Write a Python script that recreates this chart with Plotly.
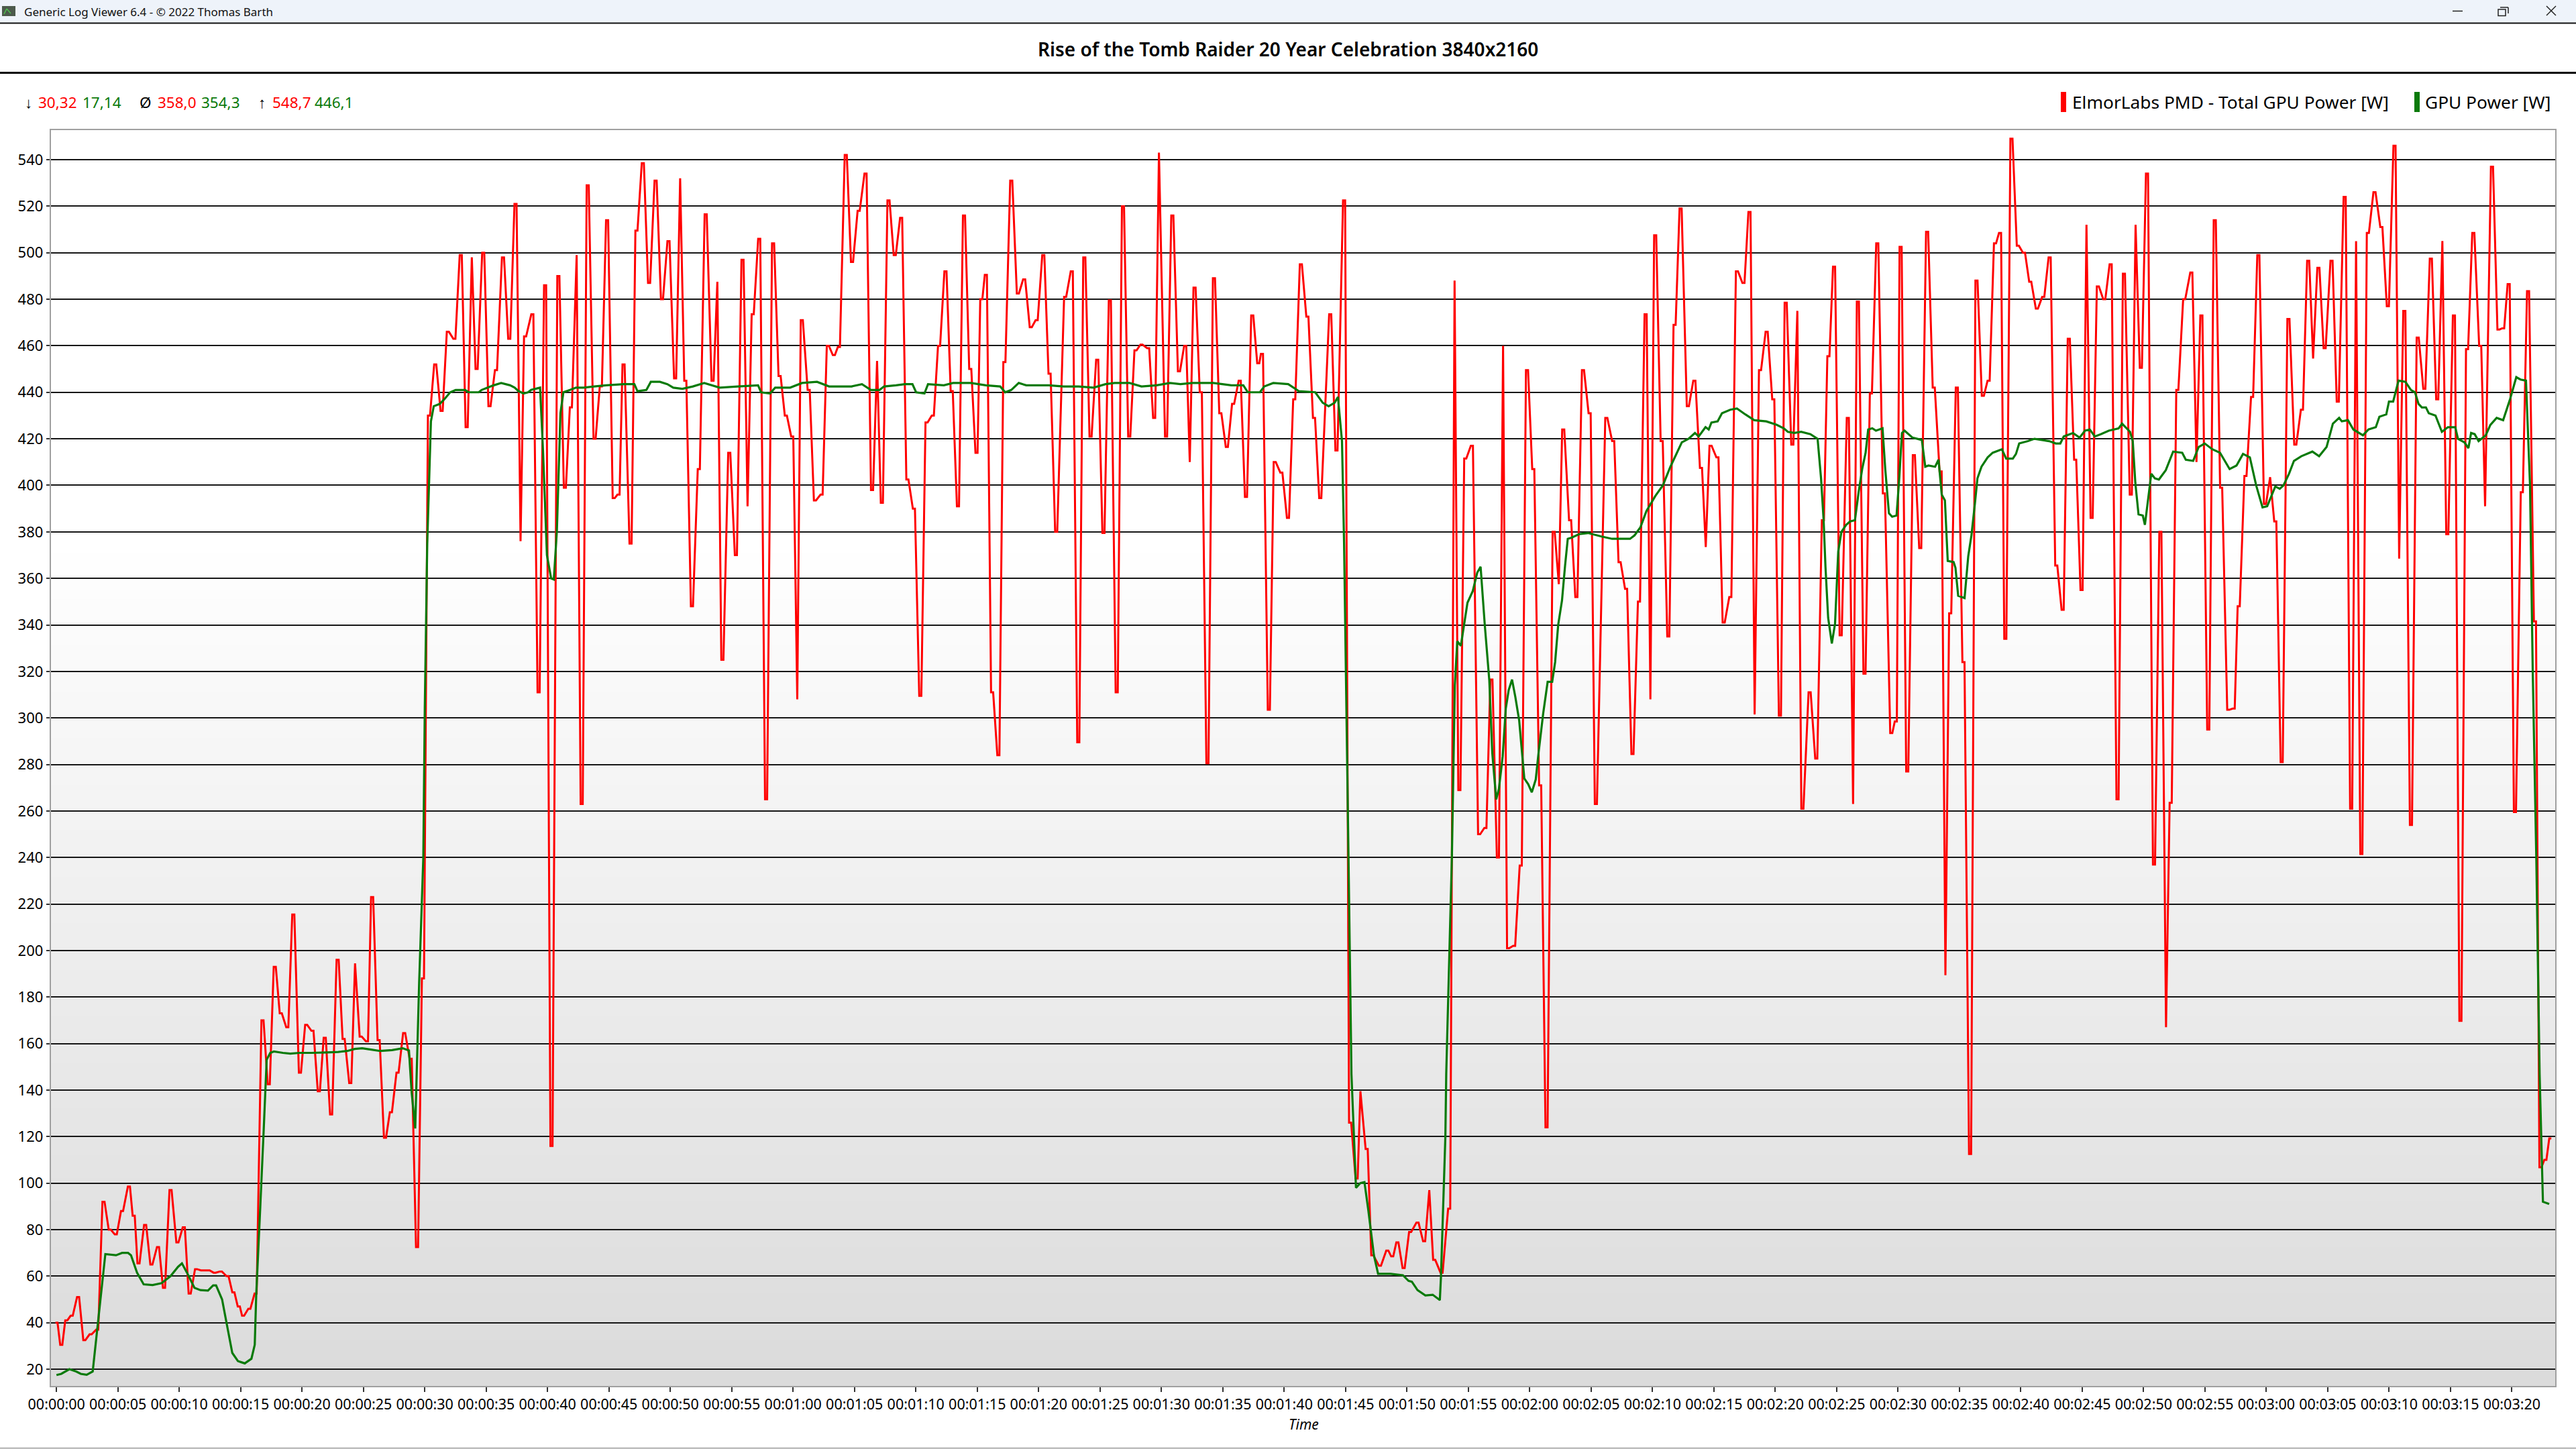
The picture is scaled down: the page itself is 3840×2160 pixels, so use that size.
#!/usr/bin/env python3.12

"""Rise of the Tomb Raider power log, as shown by Generic Log Viewer."""

from __future__ import annotations

import plotly.graph_objects as go

WIDTH, HEIGHT = 3840, 2160
PLOT_LEFT, PLOT_RIGHT, PLOT_TOP, PLOT_BOTTOM = 75.5, 3809, 194, 2066
FONT = "Noto Sans"
RED, GREEN = "#ff0000", "#0a7a0a"

# Red series: PMD readings, time in seconds, power in watts.
red_time = [
    0, .39, .80, 1.24, 1.76, 2.27, 2.78, 3.32, 3.83, 4.34, 4.83, 5.34, 5.90, 6.29, 6.68, 7.22, 7.73, 8.27, 8.76, 9.29,
    9.85, 10.37, 10.85, 11.37, 11.85, 12.39, 12.88, 13.39, 13.93, 14.41, 14.85, 15.2, 15.71, 16.22, 16.78, 17.29,
    17.78, 18.27, 18.8, 19.29, 19.83, 20.34, 20.85, 21.37, 21.85, 22.37, 22.9, 23.39, 23.93, 24.32, 24.78, 25.29,
    25.71, 26.24, 26.76, 27.24, 27.78, 28.32, 28.85, 29.37, 29.85,
    30.34, 30.85, 31.37, 31.88, 32.41, 32.93, 33.41, 33.83, 34.22, 34.76, 35.27, 35.80, 36.37, 36.88, 37.39, 37.80,
    38.17, 38.76, 39.27, 39.80, 40.32, 40.88, 41.41, 41.9, 42.37, 42.78, 43.27, 43.83, 44.34, 44.85, 45.39, 45.78,
    46.19, 46.76, 47.24, 47.76, 48.27, 48.8, 49.32, 49.85, 50.39, 50.8, 51.22, 51.76, 52.32, 52.88, 53.44, 53.83,
    54.24, 54.8, 55.34, 55.88, 56.29, 56.71, 57.24, 57.8, 58.37, 58.9, 59.41, 59.93, 60.34, 60.71, 61.27, 61.78,
    62.32, 62.83, 63.32, 63.73, 64.29, 64.8, 65.34, 65.9,
    66.43, 66.84, 67.23, 67.77, 68.28, 68.8, 69.31, 69.84, 70.36, 70.87, 71.38, 71.89, 72.41, 72.92, 73.43, 73.92,
    74.43, 74.94, 75.33, 75.7, 76.21, 76.72, 77.21, 77.77, 78.31, 78.82, 79.36, 79.84, 80.38, 80.89, 81.43, 82.16,
    82.7, 83.23, 83.72, 84.23, 84.77, 85.28, 85.8, 86.36, 86.87, 87.38, 87.89, 88.38, 88.92, 89.41, 89.8, 90.38,
    90.89, 91.43, 91.94, 92.31, 92.7, 93.21, 93.75, 94.28, 94.8, 95.33, 95.84, 96.38, 96.89, 97.4, 97.89, 98.19,
    98.75, 99.23, 99.77, 100.31, 100.82, 101.36, 101.89, 102.43, 102.94, 103.75, 104.26,
    104.88, 105.37, 105.9, 106.21, 106.72, 107.18, 107.8, 108.4, 108.8, 109.22, 109.73, 110.26, 110.86, 111.4,
    111.82, 112.22, 112.82, 113.44, 113.88, 114.27, 114.75, 115.29, 115.88, 116.39, 116.88, 117.41, 117.83, 118.24,
    118.73, 119.27, 119.78, 120.29, 120.85, 121.37, 121.95, 122.37, 122.73, 123.29, 123.8, 124.34, 124.88, 125.39,
    126.24, 126.8, 127.32, 127.85, 128.37, 128.9, 129.44, 129.83, 130.22, 130.75, 131.29, 131.8, 132.29, 132.88,
    133.41, 133.95, 134.34, 134.73, 135.29, 135.8, 136.34, 136.88, 137.41, 137.9,
    138.32, 138.76, 139.3, 139.84, 140.38, 140.85, 141.39, 141.8, 142.21, 142.8, 143.34, 143.88, 144.33, 144.79,
    145.33, 145.91, 146.34, 146.73, 147.27, 147.79, 148.31, 148.85, 149.45, 149.82, 150.21, 150.75, 151.29, 151.81,
    152.37, 152.91, 153.47, 153.86, 154.25, 154.79, 155.33, 155.87, 156.39, 156.91, 157.38, 157.9, 158.31, 158.74,
    159.24, 159.76, 160.26, 160.77, 161.31, 161.83, 162.35, 162.89, 163.41, 163.91, 164.43, 164.95, 165.35, 165.77,
    166.28, 166.8, 167.32, 167.88, 168.4, 168.96, 169.35, 169.78, 170.28,
    170.85, 171.37, 171.83, 172.21, 172.75, 173.31, 173.89, 174.31, 174.71, 175.27, 175.8, 176.32, 176.9, 177.34,
    177.75, 178.3, 178.84, 179.35, 179.89, 180.31, 180.73, 181.25, 181.8, 182.36, 182.9, 183.41, 183.81, 184.24,
    184.75, 185.31, 185.82, 186.38, 186.91, 187.31, 187.74, 188.27, 188.81, 189.37, 189.9, 190.44, 190.82, 191.24,
    191.78, 192.33, 192.87, 193.4, 193.92, 194.34, 194.74, 195.28, 195.81, 196.35, 196.86, 197.42, 197.82, 198.38,
    198.91, 199.29, 199.74, 200.25, 200.81, 201.32, 201.88, 202.33, 202.73, 203.13,
]
red_power = [
    40, 30.5, 41, 43, 51, 32.5, 35, 37, 92, 80, 78, 88, 98.5, 86, 65.5, 82, 65, 72.5, 55, 97,
    74.5, 81, 52.5, 63, 62.5, 62.5, 61.5, 62, 60, 53, 47, 43, 46, 52.5, 170, 142.5,
    193, 173, 167, 215.5, 147.5, 168, 165.5, 139.5, 162.5, 129.5, 196, 162, 143, 194.5, 163, 161,
    223, 161.5, 119.5, 130.5, 147.5, 164.5, 153.5, 72.5, 188,
    430, 452, 432, 466, 463, 499, 425, 498, 450, 500, 434, 449.5, 498, 463, 521, 376,
    464, 473.5, 311, 486, 116, 490, 399, 433.5, 499, 263, 529, 420, 442.5, 514, 394.5, 396,
    452, 375, 509.5, 538.5, 487, 531, 480, 505, 446, 532, 445, 348, 407, 516.5, 445, 487.5,
    325, 414, 370, 497, 391, 473.5, 506, 265, 504, 447, 430, 421, 308, 471, 441, 393.5,
    396, 460, 456, 459.5, 542, 496, 518, 534,
    398, 453.5, 392.5, 522.5, 499, 515, 402.5, 390, 309.5, 427, 430, 460, 492, 440.5, 391, 516,
    450, 414, 480, 490.5, 311, 284, 453, 531, 482.5, 488.5, 468, 471, 499, 448, 380, 481,
    492, 289.5, 498, 421, 454, 379.5, 479.5, 311, 520, 421, 458, 460.5, 459, 429, 543, 421,
    516, 449, 460, 410, 485, 440, 280.5, 489, 431, 416.5, 435, 445, 395, 473, 452.5, 456.5,
    303.5, 410, 405.5, 386, 437, 495, 472.5, 429, 394.5, 473.5, 415,
    522.5, 126, 102, 139.5, 114.7, 69, 64.5, 71, 68.5, 74.5, 63.5, 79, 83, 75,
    97, 67, 61.5, 89, 488, 269, 411.5, 417, 250, 252.7, 316.5, 240, 460, 201,
    202, 236.5, 449.5, 407, 271, 124, 380, 357.5, 424, 385, 352, 449.5, 431, 263,
    429, 419, 367, 355.5, 284.5, 350, 473.5, 308, 507.5, 419, 335, 469, 519, 434,
    445, 407.5, 373.5, 417, 412, 341, 352, 492, 487, 517.5,
    301.5, 449.5, 466, 437, 301, 478.5, 417.5, 475, 261, 311, 282.5, 385, 455.5, 494,
    335.5, 429, 263, 479, 319, 439.5, 504, 396.5, 293.5, 298.5, 502.5, 277, 413, 373,
    509, 442, 406, 189.4, 345, 442, 324, 112.5, 488, 438.5, 445, 504, 508.5, 334,
    549, 503, 500, 487.5, 476, 481, 498, 365.5, 346.5, 463, 411, 355, 512, 386,
    485.5, 480, 495, 265, 491, 396, 512, 450.5, 534,
    237, 380, 167, 263.5, 441, 480, 491.5, 410, 473, 295, 514, 399, 303.5, 304,
    348, 404, 438, 499, 392, 403.5, 384.5, 281, 471.5, 417.5, 432.5, 496.5, 454.5, 493.5,
    459, 496.5, 436, 524, 261, 505, 241.5, 508.5, 526, 511, 477, 546, 368.5, 475,
    254, 463.5, 441.5, 497.5, 437, 505, 379, 473, 169.8, 458.5, 508.5, 460, 391, 537,
    467, 467.5, 486.5, 259.5, 397, 483.5, 341.5, 106.8, 110, 119.2,
]
# Readings that show as a sharp point instead of a short flat top.
red_sharp_times = [
    24.32, 33.83, 37.80, 42.37, 50.8, 53.83, 56.29, 60.34, 66.84, 89.8, 92.31, 106.21, 111.82, 113.88, 117.83,
    122.37, 129.83, 134.34, 138.32, 141.8, 146.34, 153.86, 165.35, 169.35, 171.83, 174.31, 180.31, 183.81, 187.31,
    190.82, 194.34, 197.82,
]

# Green series: reported GPU power.
green_time = [
    0, .39, 1.05, 1.61, 1.98, 2.46, 2.95, 3.98, 4.85, 5.34, 5.83, 6.07, 6.56, 7.1, 7.83, 8.56, 9.29, 9.9, 10.22,
    10.63, 11.24, 11.73, 12.34, 12.76, 13.0, 13.49, 13.85, 14.32, 14.78, 15.05, 15.34, 15.88, 16.15, 16.27, 16.61,
    16.88, 17.12, 17.41, 17.71, 18.44, 19.05, 19.78, 20.76, 21.98, 22.95, 23.68, 24.29, 24.9, 25.63, 26.37, 27.34,
    28.2, 28.71, 28.93, 29.22, 29.54,
    29.88, 30.0, 30.2, 30.5, 30.73, 31.22, 31.59, 32.07, 32.51, 33.29, 33.58, 34.39, 34.63, 35.12, 35.61, 36.22,
    36.95, 37.32, 37.63, 38.05, 38.41, 38.66, 39.39, 39.63, 39.95, 40.29, 40.51, 40.76, 41.05, 41.29, 41.83, 42.32,
    42.93, 43.78, 44.76, 46.22, 47.07, 47.32, 48.05, 48.41, 49.15, 49.76, 50.24, 50.98, 51.83, 52.76, 54.02, 55.49,
    57.15, 57.39, 58.12, 58.54, 59.76, 60.73, 61.95, 62.93, 64.76, 65.61, 66.34,
    66.43, 67.04, 67.41, 68.38, 69.11, 69.72, 70.02, 70.7, 70.99, 72.28, 73.02, 74.48, 75.7, 76.87, 77.28, 77.77,
    78.38, 78.99, 80.82, 82.04, 83.26, 84.48, 85.45, 86.19, 87.41, 88.38, 89.6, 90.7, 91.55, 92.53, 94.23, 95.7,
    96.67, 97.04, 98.02, 98.38, 99.11, 100.33, 101.19, 102.53, 103.14, 103.62, 104.11, 104.38,
    104.71, 104.88, 105.24, 105.48, 105.85, 106.2, 106.54, 106.85, 107.31, 107.65, 108.67, 109.67, 110.13, 110.4,
    110.86, 111.5, 112.1, 112.68, 112.77, 113.13, 113.2, 113.66, 113.9, 114.1, 114.39, 114.93, 115.36, 115.73, 116,
    116.34, 116.71, 116.95, 117.27, 117.49, 117.8, 118.05, 118.29, 118.56, 118.83, 119.14, 119.56, 119.88, 120.17,
    120.49, 120.73, 121.1, 121.46, 121.83, 122.07, 122.32, 122.63, 122.88, 123.1, 123.41, 124.02, 124.75, 125.85,
    126.71, 127.56, 128.17, 128.54, 129.02, 129.51, 130.24, 130.85, 131.46, 132.39, 132.93, 133.46, 133.76, 134.32,
    134.58, 134.8, 135.31, 135.66, 136.34, 136.88, 137.56, 138.29, 139.27, 140.12,
    140.7, 141.03, 141.57, 142.11, 142.86, 143.45, 143.73, 143.94, 144.09, 144.31, 144.61, 144.87, 145.13, 145.39,
    145.78, 146.1, 146.49, 146.79, 147.08, 147.36, 147.57, 147.9, 148.2, 148.74, 148.96, 149.26, 149.52, 149.88,
    150.1, 150.32, 150.53, 151.18, 151.94, 152.22, 152.48, 153.02, 153.3, 153.56, 153.82, 154.05, 154.53, 154.68,
    154.9, 155.42, 155.72, 155.98, 156.26, 156.47, 156.8, 157.3, 157.71, 158.46, 158.81, 159.35, 159.61, 159.87,
    160.58, 161.12, 162.31, 162.85, 163.22, 163.5, 164.25, 164.79, 165.23, 165.62, 166.03, 166.52, 167.17, 167.97,
    168.25, 168.9, 169.12, 169.33, 169.59, 169.94, 170.11, 170.3,
    170.63, 170.92, 171.25, 171.81, 172.41, 173.15, 173.44, 174.04, 174.49, 174.98, 175.6, 176.23, 177.01, 177.57,
    178.1, 178.66, 179.17, 179.69, 180.07, 180.73, 181.09, 181.4, 181.85, 182.25, 182.85, 183.75, 184.3, 184.91,
    185.42, 185.93, 186.15, 186.65, 187.09, 187.87, 188.32, 188.92, 189.21, 189.77, 189.99, 190.33, 190.77, 191.33,
    191.78, 192.11, 192.4, 192.67, 193, 193.23, 193.78, 194.3, 194.79, 195.39, 195.61, 196.13, 196.46, 196.68, 196.97,
    197.29, 197.87, 198.25, 198.76, 199.29, 199.85, 200.36, 200.7, 201.15, 201.48, 201.7, 201.99, 202.26, 202.53,
    203.04,
]
green_power = [
    17.5, 18, 20, 19, 18, 17.6, 19, 69.5, 69, 70, 70, 69, 61.5, 56.5, 56.2, 57, 60, 64, 65.5,
    61.5, 55, 54, 53.8, 56, 56, 50, 40, 27, 23.5, 23, 22.5, 24.5, 30.5, 52, 91,
    123, 153, 156, 156.6, 156, 155.7, 156, 156, 156.2, 156.4, 156.8, 157.7, 158, 157.4, 156.8, 157.2,
    158, 157, 139, 123.5, 186,
    240, 304, 375, 427.5, 434, 435, 437, 440, 441, 441, 440, 440, 441, 442, 443, 444,
    443, 442, 440.5, 439.5, 440, 441, 442, 415, 370, 360, 359.5, 380.5, 431, 440, 441, 442,
    442, 442.5, 443, 443.5, 443.5, 440.5, 441, 444.5, 444.5, 443.5, 442, 441.5, 442.5, 444,
    442, 442.5, 443, 440, 439.5, 442, 442, 444, 444.5, 442.5, 442.5, 443.5, 441,
    441, 441, 442.5, 443, 443.5, 443.5, 440, 439.5, 443.5, 443, 444, 444, 443, 442.5, 440, 441,
    444, 443, 443, 442.5, 442.5, 442, 443.5, 444, 444, 442.5, 443, 444, 443.5, 444, 444, 443,
    443, 440, 440, 442.5, 444, 443.5, 440.5, 440, 435.5, 434, 435.5, 438,
    419, 375, 240, 147, 98, 100, 100.4, 88.5, 69, 61, 61, 60.4, 58, 57.6,
    54, 51.7, 52, 49.7, 59.6, 120, 147, 240, 314, 333, 331, 349.5, 354.5, 362.5, 365,
    340, 316, 285, 265, 269.5, 283.5, 304, 312, 316.5, 309, 299, 274, 271.5, 268,
    273.5, 285.5, 302, 315.5, 315.5, 324, 340, 350.5, 365.5, 377, 377.5, 379, 379.5, 378,
    377, 377, 377, 378.5, 382, 389, 395.5, 400, 408, 418.5, 420, 422.5, 421, 425,
    424, 427, 427.5, 431, 432.5, 433, 430.5, 428, 427.5, 426,
    424.5, 423, 422.5, 423, 422, 420, 403, 385, 365, 343, 332, 340.5, 371.5, 380,
    383, 384.5, 385, 397, 407, 414, 424, 424.5, 423.5, 424.5, 407, 388, 386.5, 387,
    403, 422.5, 423.5, 420.5, 419.5, 408, 408.5, 408, 411, 396, 393.5, 367.5, 367, 364.5,
    352.5, 351.5, 369.5, 378.5, 392, 403, 408, 412, 414, 415.5, 411.5, 411.5, 413.5, 418,
    419, 420, 419, 418, 418, 421, 422.5, 420.5, 423.5, 424, 421, 422, 423.5, 424.5,
    426.5, 423, 419, 401, 387.5, 387, 383, 391,
    405, 403, 402.5, 406.5, 414.5, 414, 411, 410.5, 416.5, 418, 415.5, 414, 407, 408.5,
    413.5, 412, 400, 390.5, 391, 399.5, 398.5, 400, 405, 410.5, 412.5, 414.5, 412.5, 416.5,
    426.5, 429, 427.5, 428, 424, 421.5, 424, 425, 429.5, 430.5, 436, 436, 445, 444.5,
    441, 440, 435, 433.5, 433.5, 431, 430, 423, 425, 425, 420, 418.5, 416, 422.5, 422,
    419, 421.5, 426, 429, 428, 437, 446.5, 445.5, 445, 400, 320, 240, 147, 92,
    91,
]

y_tick_values = list(range(20, 541, 20))
x_tick_seconds = list(range(0, 201, 5))
x_tick_labels = [f"00:{s // 60:02d}:{s % 60:02d}" for s in x_tick_seconds]

# (x, text, colour) of the min / average / max read-out above the plot.
stat_texts = [
    (36, "↓", "black"), (56, "30,32", RED), (122, "17,14", GREEN),
    (207, "Ø", "black"), (234, "358,0", RED), (298.5, "354,3", GREEN),
    (384, "↑", "black"), (404.5, "548,7", RED), (468, "446,1", GREEN),
]

assert len(red_time) == len(red_power), (len(red_time), len(red_power))
assert len(green_time) == len(green_power), (len(green_time), len(green_power))


def _fx(px: float) -> float:
    return px / WIDTH


def _fy(px: float) -> float:
    return 1 - px / HEIGHT


def _rect(x0: float, y0: float, x1: float, y1: float, fill: str | None = None, line: str | None = None,
          width: float = 0) -> dict:
    return {"type": "rect", "xref": "paper", "yref": "paper", "x0": _fx(x0), "x1": _fx(x1), "y0": _fy(y0),
            "y1": _fy(y1), "fillcolor": fill or "rgba(0,0,0,0)", "line": {"color": line or "rgba(0,0,0,0)", "width": width},
            "layer": "below"}


def _segment(x0: float, y0: float, x1: float, y1: float, color: str = "#222222", width: float = 1.5) -> dict:
    return {"type": "line", "xref": "paper", "yref": "paper", "x0": _fx(x0), "x1": _fx(x1), "y0": _fy(y0),
            "y1": _fy(y1), "line": {"color": color, "width": width}, "layer": "below"}


def _text(x: float, y: float, text: str, color: str = "black", size: float = 22.5, anchor: str = "left", **font) -> dict:
    return {"xref": "paper", "yref": "paper", "x": _fx(x), "y": _fy(y), "text": text, "showarrow": False,
            "xanchor": anchor, "yanchor": "middle", "borderpad": 0,
            "font": {"family": FONT, "size": size, "color": color, **font}}


# The log holds each PMD reading for a moment, which gives the flat tops.
red_x, red_y = [], []
for t, p in zip(red_time, red_power):
    if t in red_sharp_times:
        red_x.append(t)
        red_y.append(p)
    else:
        red_x += [t - .085, t + .085]
        red_y += [p, p]

fig = go.Figure()
fig.add_trace(go.Scatter(x=red_x, y=red_y, mode="lines", line={"color": RED, "width": 3, "simplify": False}))
fig.add_trace(go.Scatter(x=green_time, y=green_power, mode="lines",
                         line={"color": GREEN, "width": 3.2, "simplify": False}))

# Plot background fades from white to grey in visible steps.
band_top = 790
band_count = 37
band_height = (PLOT_BOTTOM - band_top) / band_count
shapes = [_rect(PLOT_LEFT, PLOT_TOP, PLOT_RIGHT, band_top, "#ffffff")]
for i in range(band_count):
    grey = 255 - i
    shapes.append(_rect(PLOT_LEFT, band_top + i * band_height, PLOT_RIGHT, band_top + (i + 1) * band_height + 1,
                        f"rgb({grey},{grey},{grey})"))

# Window chrome around the plot.
shapes += [
    _rect(0, 0, WIDTH, 34, "#eef3fa"),
    _segment(0, 34.5, WIDTH, 34.5, "#111111", 2),
    _segment(0, 108.5, WIDTH, 108.5, "#000000", 3),
    _segment(0, 2159, WIDTH, 2159, "#bdbdbd", 3),
    _rect(3, 9, 23, 24, "#4c5a4c"),
    _segment(6, 21, 10, 13, "#4fc04f", 1.5),
    _segment(10, 13, 16, 20, "#4fc04f", 1.5),
    _segment(3656, 16.5, 3671, 16.5, "#222222", 1.5),
    _rect(3724, 14, 3735, 23.5, None, "#222222", 1.5),
    _segment(3727, 11, 3739, 11, "#222222", 1.5),
    _segment(3739, 11, 3739, 20, "#222222", 1.5),
    _segment(3796, 9, 3810, 23, "#222222", 1.5),
    _segment(3796, 23, 3810, 9, "#222222", 1.5),
    _rect(3072, 137, 3080, 167, RED),
    _rect(3599, 137, 3607, 167, GREEN),
]

annotations = [
    _text(35, 17, "Generic Log Viewer 6.4 - © 2022 Thomas Barth", "#111111", 17),
    _text(1920, 73, "Rise of the Tomb Raider 20 Year Celebration 3840x2160", "black", 28, "center", weight=600),
    _text(3088, 152, "ElmorLabs PMD - Total GPU Power [W]", "black", 26.3),
    _text(3614, 152, "GPU Power [W]", "black", 26.3),
    _text(1943, 2123, "Time", "black", 21, "center", style="italic"),
]
annotations += [_text(x, 153, text, color) for x, text, color in stat_texts]

fig.update_layout(
    width=WIDTH, height=HEIGHT, autosize=False, showlegend=False,
    margin={"l": 0, "r": 0, "t": 0, "b": 0},
    paper_bgcolor="white", plot_bgcolor="rgba(0,0,0,0)",
    font={"family": FONT, "color": "black"},
    shapes=shapes, annotations=annotations,
    xaxis={"domain": [_fx(PLOT_LEFT), _fx(PLOT_RIGHT)], "range": [-.475, 203.53], "showgrid": False, "zeroline": False,
           "automargin": False, "tickmode": "array", "tickvals": x_tick_seconds, "ticktext": x_tick_labels,
           "tickangle": 0, "ticks": "outside", "ticklen": 7, "tickwidth": 1.5, "tickcolor": "#333333",
           "tickfont": {"family": FONT, "size": 21.5}, "showline": True, "mirror": True, "linecolor": "#a0a0a0",
           "linewidth": 1.5},
    yaxis={"domain": [_fy(PLOT_BOTTOM), _fy(PLOT_TOP)], "range": [12.8, 552.7], "zeroline": False, "automargin": False,
           "tickmode": "array", "tickvals": y_tick_values, "ticks": "outside", "ticklen": 5, "tickwidth": 1.5,
           "tickcolor": "#333333", "tickfont": {"family": FONT, "size": 22}, "gridcolor": "#161616", "gridwidth": 1.6,
           "showline": True, "mirror": True, "linecolor": "#a0a0a0", "linewidth": 1.5},
)

fig.write_html("out.html", config={"displayModeBar": False},
               post_script="document.body.style.margin = '0'; document.body.style.overflow = 'hidden';")
